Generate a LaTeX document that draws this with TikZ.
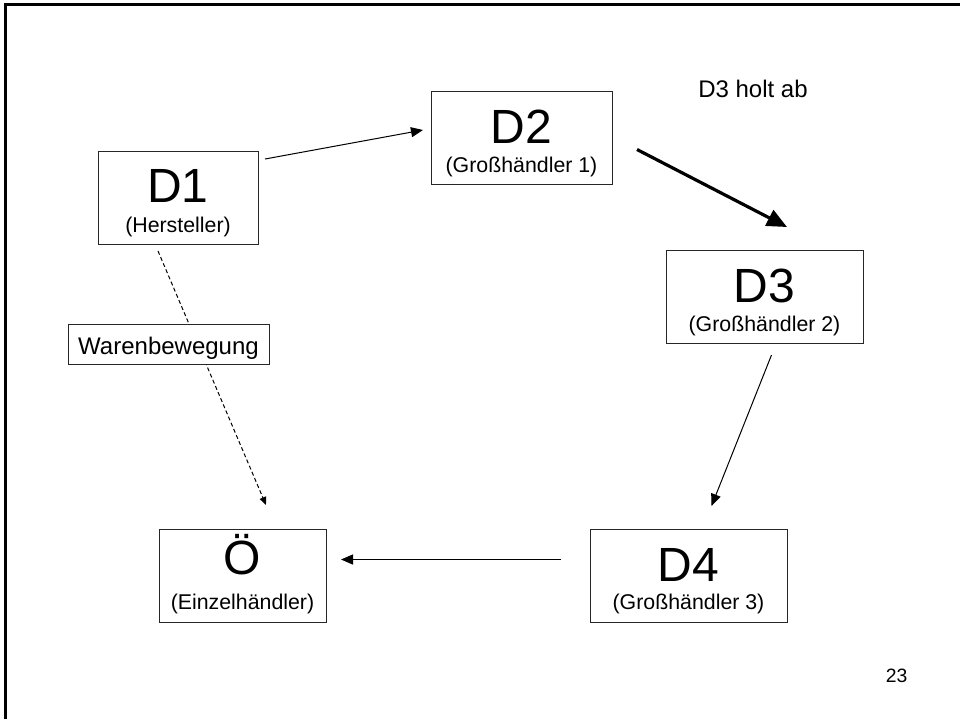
\documentclass[tikz,border=0pt]{standalone}
\usepackage{fontspec}
\setmainfont{Liberation Sans}
\usetikzlibrary{arrows.meta,calc}
\begin{document}
\begin{tikzpicture}[x=0.75pt,y=-0.75pt,
  box/.style={draw=black!85, line width=0.75pt, fill=white, inner sep=0pt,
    outer sep=0pt, minimum height=69.75pt},
  bigtxt/.style={font=\fontsize{36}{40}\selectfont, inner sep=0pt, anchor=base},
  subtxt/.style={font=\fontsize{16}{18}\selectfont, inner sep=0pt, anchor=base},
  arr/.style={line width=0.75pt, -{Triangle[length=9pt,width=7.5pt]}},
  heavyarr/.style={line width=2.4pt, -{Triangle[length=15pt,width=13pt]}},
  dasharr/.style={line width=0.75pt, dash pattern=on 3pt off 2pt,
    -{Triangle[length=6pt,width=5pt]}},
  plaintxt/.style={font=\fontsize{18}{20}\selectfont, inner sep=0pt}
]
\useasboundingbox (0,0) rectangle (960,719);

% frame
\draw[line width=2.25pt] (5.5,719) -- (5.5,4) -- (960,4);

% boxes
\node[box, minimum width=120pt]    (d1) at (178,197.5) {};
\node[box, minimum width=135.75pt] (d2) at (521.5,137.5) {};
\node[box, minimum width=147.75pt] (d3) at (764.5,296.5) {};
\node[box, minimum width=147.75pt] (d4) at (688.5,575.5) {};
\node[box, minimum width=125.25pt] (oe) at (242.5,575.5) {};

% labels inside the boxes
\node[bigtxt] (d1a) at ($(d1.north)+(0,51.5)$) {D1};
\node[subtxt] (d1b) at ($(d1.north)+(0,81.5)$) {(Hersteller)};
\node[bigtxt] (d2a) at ($(d2.north)+(0,52)$) {D2};
\node[subtxt] (d2b) at ($(d2.north)+(0,81)$) {(Großhändler 1)};
\node[bigtxt] (d3a) at ($(d3.north)+(0,52)$) {D3};
\node[subtxt] (d3b) at ($(d3.north)+(0,81)$) {(Großhändler 2)};
\node[bigtxt] (d4a) at ($(d4.north)+(0,52.5)$) {D4};
\node[subtxt] (d4b) at ($(d4.north)+(0,80)$) {(Großhändler 3)};
\node[bigtxt] (oea) at ($(oe.north)+(0,45.5)$) {Ö};
\node[subtxt] (oeb) at ($(oe.north)+(0,80.5)$) {(Einzelhändler)};

% connectors
\draw[arr] ($(d1.north east)+(7,8)$) -- ($(d2.west)+(-8,-7.5)$);
\draw[heavyarr] ($(d2.east)+(25,12)$) -- ($(d3.north)+(22.5,-23)$);
\draw[arr] ($(d3.south)+(7,12)$) -- ($(d4.north)+(23,-23)$);
\draw[arr] ($(d4.west)+(-29,-16)$) -- ($(oe.east)+(15,-16)$);
\draw[dasharr] ($(d1.south)+(-20,7)$) -- ($(oe.north)+(23.5,-24)$);

% label box over the dashed connector
\node[box, minimum width=150.75pt, minimum height=30pt] (wb) at (168.5,344) {};
\node[plaintxt, anchor=base] (wbt) at (168.5,354.3) {Warenbewegung};

% free texts
\node[plaintxt, anchor=base west] (holt) at (698,97.7) {D3 holt ab};
\node[font=\fontsize{14.5}{16}\selectfont, inner sep=0pt, anchor=base] (pg) at (896.5,682.7) {23};
\end{tikzpicture}
\end{document}
